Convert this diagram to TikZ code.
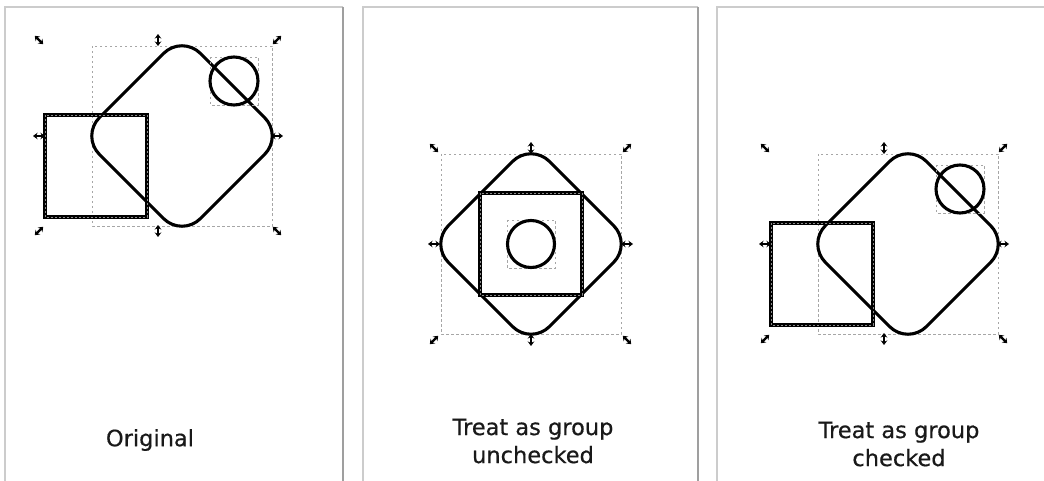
\documentclass[tikz,border=0pt]{standalone}
\usepackage{fontspec}
\setmainfont{DejaVu Sans}
\usetikzlibrary{arrows.meta}

\begin{document}
\begin{tikzpicture}[
    x=1pt,y=-1pt,>=Stealth,
    font=\fontsize{22.5}{28}\selectfont,
    outline/.style={draw=black,line width=3.1pt},
    selbox/.style={draw=gray!70,line width=0.8pt,dash pattern=on 2.5pt off 2.5pt},
    overlay dash/.style={draw=black!45,line width=0.6pt,dash pattern=on 2pt off 2pt},
    grip/.style={<->,line width=2.2pt,>={Stealth[length=4.5pt,width=6.5pt]}},
    framelight/.style={draw=gray!40,line width=1.2pt},
    frameshade/.style={draw=gray!75,line width=1.6pt},
    caption/.style={align=center,text=black!90,
        font=\fontsize{22.5}{28}\selectfont\addfontfeature{FakeBold=0.6}}
]
\useasboundingbox (0,0) rectangle (1044,481);
% Panel frames.
\draw[framelight] (5,481) -- (5,7) -- (343,7);
\draw[frameshade] (343,7) -- (343,481);
\draw[framelight] (363,481) -- (363,7) -- (698,7);
\draw[frameshade] (698,7) -- (698,481);
\draw[framelight] (717,481) -- (717,7) -- (1044,7);
% Original and checked: same arrangement.
\foreach \cx/\cy in {182/136,908/244}{
\begin{scope}[shift={(\cx,\cy)}]
    \draw[selbox] (-90,-90) rectangle (90,90);
    \draw[outline,rounded corners=26pt]
        (50.5,-50.5) -- (101,0) -- (0,101) -- (-101,0) -- (0,-101) -- cycle;
    \draw[selbox] (28,-79) rectangle (76,-31);
    \draw[outline] (52,-55) circle[radius=24];
    \draw[outline,line width=3.4pt] (-137,-21) rectangle (-35,81);
    \draw[overlay dash] (-137,-21) rectangle (-35,81);
    \foreach \hx/\hy/\ha in {-143/-96/45,-24/-96/90,95/-96/-45,-143/0/0,
        95/0/0,-143/95/-45,-24/95/90,95/95/45}
        \draw[grip] (\hx,\hy) ++(\ha:-6) -- ++(\ha:12);
\end{scope}
}
% Unchecked: everything centred.
\begin{scope}[shift={(531,244)}]
    \draw[selbox] (-90,-90) rectangle (90,90);
    \draw[outline,rounded corners=26pt]
        (50.5,-50.5) -- (101,0) -- (0,101) -- (-101,0) -- (0,-101) -- cycle;
    \draw[outline,line width=3.4pt] (-51,-51) rectangle (51,51);
    \draw[overlay dash] (-51,-51) rectangle (51,51);
    \draw[selbox] (-24,-24) rectangle (24,24);
    \draw[outline] (0,0) circle[radius=23.5];
    \foreach \hx/\hy/\ha in {-97/-96/45,0/-96/90,96/-96/-45,-97/0/0,
        96/0/0,-97/96/-45,0/96/90,96/96/45}
        \draw[grip] (\hx,\hy) ++(\ha:-6) -- ++(\ha:12);
\end{scope}
% Captions.
\node[caption] (orig) at (150,440) {Original};
\node[caption] (unchk) at (533,441) {Treat as group\\unchecked};
\node[caption] (chk) at (899,444) {Treat as group\\checked};
\end{tikzpicture}
\end{document}
